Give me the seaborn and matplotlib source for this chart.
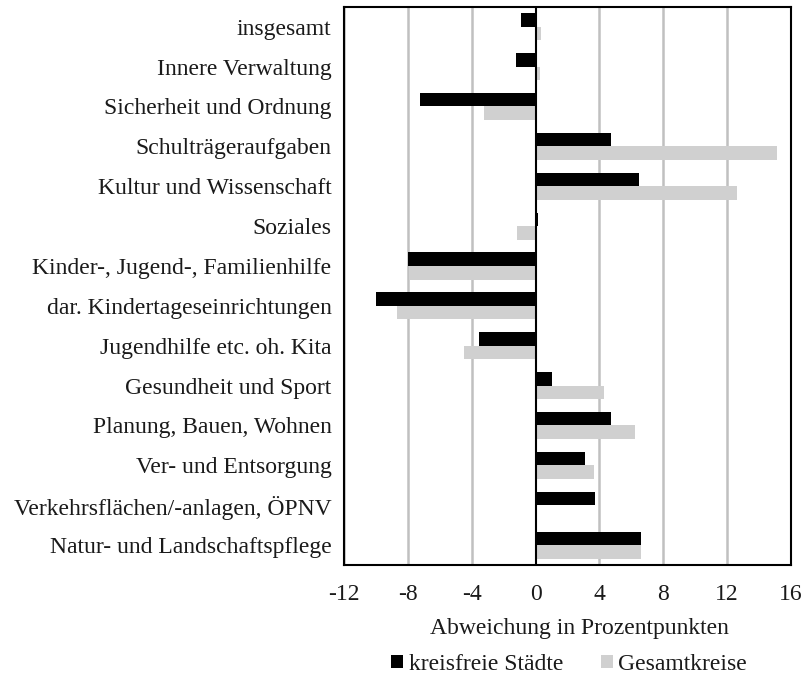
import matplotlib
matplotlib.use("Agg")
import matplotlib.pyplot as plt
import seaborn as sns
import pandas as pd

categories = ["insgesamt", "Innere Verwaltung", "Sicherheit und Ordnung", "Schulträgeraufgaben",
              "Kultur und Wissenschaft", "Soziales", "Kinder-, Jugend-, Familienhilfe",
              "dar. Kindertageseinrichtungen", "Jugendhilfe etc. oh. Kita", "Gesundheit und Sport",
              "Planung, Bauen, Wohnen", "Ver- und Entsorgung", "Verkehrsflächen/-anlagen, ÖPNV",
              "Natur- und Landschaftspflege"]
kreisfreie = [-0.9, -1.25, -7.25, 4.75, 6.45, 0.15, -8.0, -10.0, -3.55, 1.0, 4.7, 3.1, 3.7, 6.6]
gesamtkreise = [0.35, 0.3, -3.25, 15.1, 12.6, -1.15, -7.9, -8.7, -4.5, 4.3, 6.2, 3.65, 0.0, 6.6]
series = ["kreisfreie Städte", "Gesamtkreise"]
xticks = [-12, -8, -4, 0, 4, 8, 12, 16]

df = pd.DataFrame({
    "Kategorie": categories * 2,
    "Wert": kreisfreie + gesamtkreise,
    "Reihe": [series[0]] * len(categories) + [series[1]] * len(categories),
})

sns.set_style("white")
plt.rcParams["font.family"] = ["Liberation Serif", "DejaVu Serif"]

FS = 17
TC = "#1a1a1a"

fig = plt.figure(figsize=(8.06, 6.77), dpi=100)
ax = fig.add_axes([0.4268, 0.1654, 0.5546, 0.8246])

ax.set_axisbelow(True)
for t in xticks:
    if t != 0:
        ax.axvline(t, color="#c0c0c0", lw=1.8, zorder=0)

sns.barplot(data=df, y="Kategorie", x="Wert", hue="Reihe", orient="h",
            palette=["#000000", "#d0d0d0"], width=0.68, gap=0, ax=ax,
            saturation=1, legend=True, errorbar=None, linewidth=0)

ax.axvline(0, color="black", lw=1.5, zorder=3)
ax.set_xlim(-12, 16)
ax.set_xticks(xticks)
ax.set_xticklabels([str(t) for t in xticks])
ax.set_ylim(len(categories) - 0.5, -0.5)
ax.tick_params(axis="both", length=0, labelsize=FS, colors=TC)
ax.tick_params(axis="y", pad=9)
ax.tick_params(axis="x", pad=14)
ax.set_ylabel("")
ax.set_xlabel("Abweichung in Prozentpunkten", fontsize=FS, color=TC)
ax.xaxis.set_label_coords(0.527, -0.095)
for s in ax.spines.values():
    s.set_visible(True)
    s.set_color("black")
    s.set_linewidth(1.5)

handles, labels = ax.get_legend_handles_labels()
ax.get_legend().remove()
fig.legend(handles, labels, loc="center", bbox_to_anchor=(0.706, 0.019), ncol=2,
           frameon=False, fontsize=FS, handlelength=0.5, handleheight=0.5,
           handletextpad=0.25, columnspacing=1.6, labelcolor=TC)

fig.savefig("out.png", dpi=100)
